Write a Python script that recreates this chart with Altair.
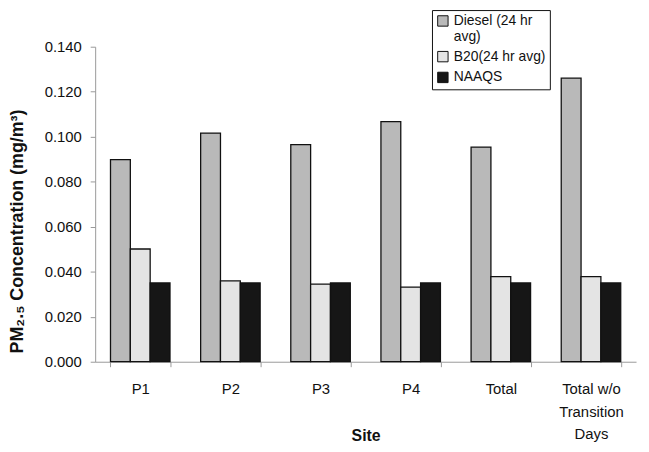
import altair as alt
import pandas as pd

sites = ["P1", "P2", "P3", "P4", "Total", "Total w/o Transition Days"]
series = ["Diesel (24 hr avg)", "B20(24 hr avg)", "NAAQS"]
diesel = [0.0898, 0.1016, 0.0965, 0.1067, 0.0954, 0.1260]
b20 = [0.0501, 0.0359, 0.0345, 0.0332, 0.0378, 0.0378]
naaqs = [0.035, 0.035, 0.035, 0.035, 0.035, 0.035]
colors = ["#b9b9b9", "#e4e4e4", "#161616"]
y_ticks = [0.0, 0.02, 0.04, 0.06, 0.08, 0.10, 0.12, 0.14]

rows = []
for i, s in enumerate(sites):
    for name, vals in zip(series, [diesel, b20, naaqs]):
        rows.append({"site": s, "series": name, "value": vals[i]})
df = pd.DataFrame(rows)

FONT = "Liberation Sans"

x_label_expr = ("datum.label == 'Total w/o Transition Days' ? "
                "['Total w/o', 'Transition', 'Days'] : datum.label")
legend_label_expr = ("datum.label == 'Diesel (24 hr avg)' ? "
                     "['Diesel (24 hr', 'avg)'] : datum.label")

chart = alt.Chart(df).mark_bar(stroke="#111111", strokeWidth=1.3).encode(
    x=alt.X(
        "site:N", sort=sites,
        scale=alt.Scale(paddingInner=0.34, paddingOuter=0.17),
        axis=alt.Axis(
            title="Site", labelAngle=0, tickBand="extent",
            labelExpr=x_label_expr, labelLineHeight=23, labelPadding=15,
            labelBaseline="top",
            tickSize=5, titleY=75, titleBaseline="middle",
        ),
    ),
    xOffset=alt.XOffset("series:N", sort=series,
                        scale=alt.Scale(paddingInner=0, paddingOuter=0)),
    y=alt.Y(
        "value:Q",
        scale=alt.Scale(domain=[0, 0.14], nice=False),
        axis=alt.Axis(
            title="PM₂.₅ Concentration (mg/m³)", values=y_ticks, format=".3f",
            grid=False, tickSize=5, labelPadding=9,
            titleX=-78, titleY=186, titleBaseline="middle", titleAngle=-90,
            titleFontSize=18,
        ),
    ),
    color=alt.Color(
        "series:N", sort=series,
        scale=alt.Scale(domain=series, range=colors),
        legend=alt.Legend(
            title=None, orient="none", legendX=340, legendY=-37,
            labelExpr=legend_label_expr, symbolType="square",
            symbolSize=110, symbolStrokeColor="#111111", symbolStrokeWidth=1,
            strokeColor="#111111", fillColor="white", padding=4,
            labelFontSize=14, labelFont=FONT, labelColor="#111111",
            rowPadding=5, labelOffset=4, labelLimit=300,
        ),
    ),
).properties(
    width=546, height=318,
    autosize=alt.AutoSizeParams(type="none"),
    padding={"left": 88, "top": 37, "right": 5, "bottom": 84},
).configure_view(stroke=None).configure_axis(
    domainColor="#999999", tickColor="#999999",
    labelFont=FONT, labelFontSize=15, labelColor="#111111",
    titleFont=FONT, titleFontSize=16, titleFontWeight="bold", titleColor="#111111",
)

chart.save("out.html", embed_options={"renderer": "svg", "actions": False})
